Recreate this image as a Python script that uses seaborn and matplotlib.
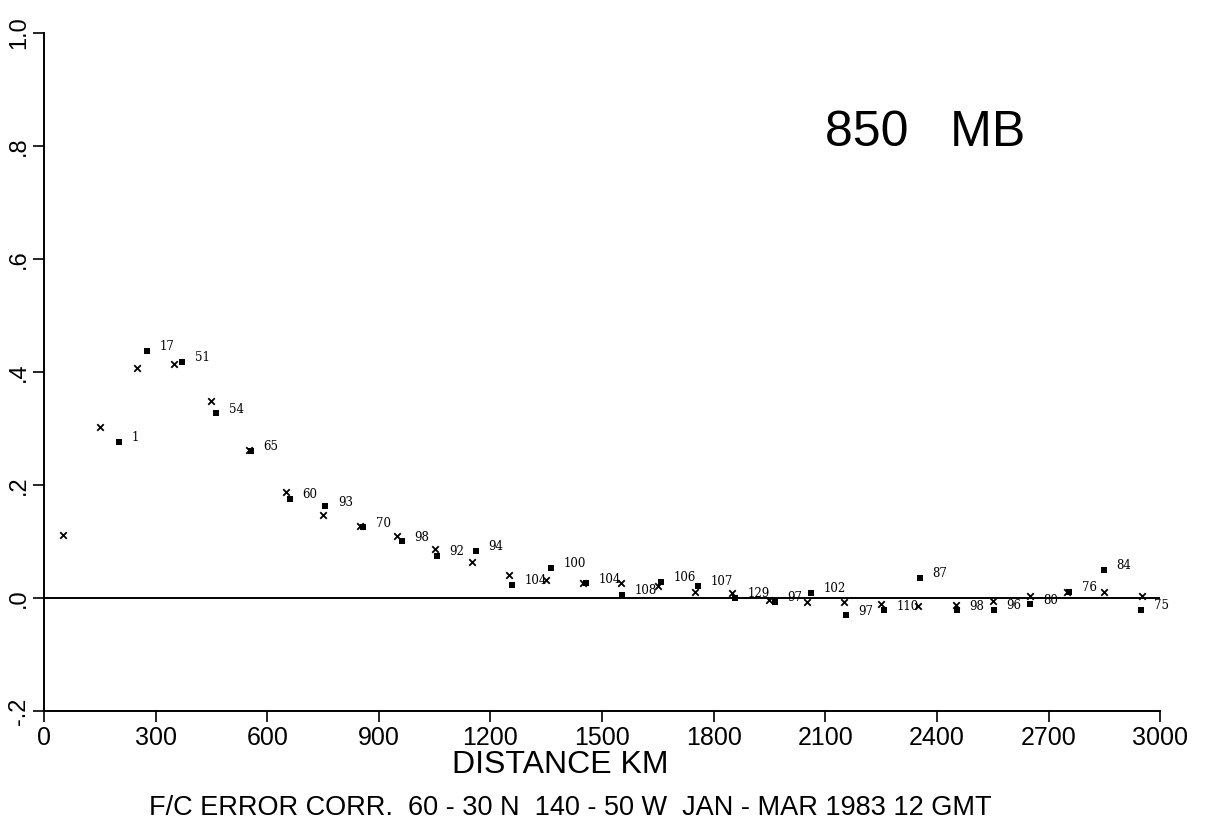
# Forecast error correlation vs distance, 850 MB, Jan-Mar 1983
import pandas as pd
import numpy as np
import matplotlib
matplotlib.use("Agg")
import matplotlib.pyplot as plt
import seaborn as sns

# crosses: bin centres
cross_km = [50, 150, 250, 350, 450, 550, 650, 750, 850, 950, 1050, 1150, 1250, 1350, 1450,
            1550, 1650, 1750, 1850, 1950, 2050, 2150, 2250, 2350, 2450, 2550, 2650, 2750, 2850, 2950]
cross_corr = [0.112, 0.303, 0.407, 0.414, 0.349, 0.262, 0.187, 0.146, 0.128, 0.110, 0.087, 0.063,
              0.040, 0.032, 0.027, 0.026, 0.021, 0.011, 0.008, -0.004, -0.007, -0.008, -0.010,
              -0.015, -0.013, -0.006, 0.004, 0.011, 0.011, 0.004]

# squares with sample counts
square_km = [202, 276, 371, 463, 557, 660, 756, 858, 962, 1056, 1161, 1258, 1363, 1457, 1554,
             1659, 1758, 1857, 1965, 2062, 2156, 2258, 2355, 2454, 2554, 2651, 2755, 2849, 2949]
square_corr = [0.276, 0.437, 0.418, 0.327, 0.260, 0.176, 0.162, 0.125, 0.100, 0.074, 0.083, 0.023,
               0.053, 0.026, 0.006, 0.029, 0.021, 0.000, -0.007, 0.009, -0.031, -0.022, 0.036,
               -0.022, -0.021, -0.011, 0.011, 0.050, -0.021]
square_n = [1, 17, 51, 54, 65, 60, 93, 70, 98, 92, 94, 104, 100, 104, 108, 106, 107, 129, 97,
            102, 97, 110, 87, 98, 96, 80, 76, 84, 75]

x_ticks = [0, 300, 600, 900, 1200, 1500, 1800, 2100, 2400, 2700, 3000]
y_ticks = [-0.2, 0.0, 0.2, 0.4, 0.6, 0.8, 1.0]
y_tick_labels = ["-.2", ".0", ".2", ".4", ".6", ".8", "1.0"]

sns.set_style("ticks")
plt.rcParams['font.family'] = ['Liberation Sans', 'DejaVu Sans']
plt.rcParams['text.color'] = 'black'
plt.rcParams['xtick.color'] = 'black'
plt.rcParams['ytick.color'] = 'black'

crosses = pd.DataFrame({"km": cross_km, "corr": cross_corr})
squares = pd.DataFrame({"km": square_km, "corr": square_corr, "n": square_n})

fig = plt.figure(figsize=(12.08, 8.33), dpi=100)
ax = fig.add_axes([0.0364, 0.1465, 0.924, 0.8139])

sns.scatterplot(data=crosses, x="km", y="corr", marker="x", color="black",
                s=22, linewidth=1.3, ax=ax, zorder=3)
sns.scatterplot(data=squares, x="km", y="corr", marker="s", color="black",
                s=14, linewidth=0, ax=ax, zorder=3)

# sample counts next to the squares
for km, corr, n in zip(square_km, square_corr, square_n):
    ax.annotate(str(n), (km, corr), xytext=(9, 3),
                textcoords="offset points", fontsize=8.5, family="DejaVu Serif",
                va="center", ha="left")

ax.axhline(0, color="black", linewidth=1.4, zorder=2)

ax.set_xlim(0, 3000)
ax.set_ylim(-0.2, 1.0)
ax.set_xticks(x_ticks)
ax.set_xticklabels([str(t) for t in x_ticks], fontsize=18)
ax.set_yticks(y_ticks)
ax.set_yticklabels(y_tick_labels, rotation=90, va="center", fontsize=17)
ax.tick_params(axis="both", direction="out", length=8, width=1.2, color="black")
ax.tick_params(axis="x", pad=3)
ax.tick_params(axis="y", pad=2)

for pos in ['right', 'top']:
    ax.spines[pos].set_visible(False)
for pos in ['left', 'bottom']:
    ax.spines[pos].set_linewidth(1.4)
    ax.spines[pos].set_color("black")

ax.set_xlabel("")
ax.set_ylabel("")

fig.text(0.464, 0.0815, "DISTANCE KM", fontsize=23, ha="center", va="center")
fig.text(0.472, 0.030, "F/C ERROR CORR.  60 - 30 N  140 - 50 W  JAN - MAR 1983 12 GMT",
         fontsize=19.5, ha="center", va="center")
ax.text(0.789, 0.853, "850   MB", transform=ax.transAxes, fontsize=36, ha="center", va="center")

plt.savefig("out.png", dpi=100)
plt.close()
